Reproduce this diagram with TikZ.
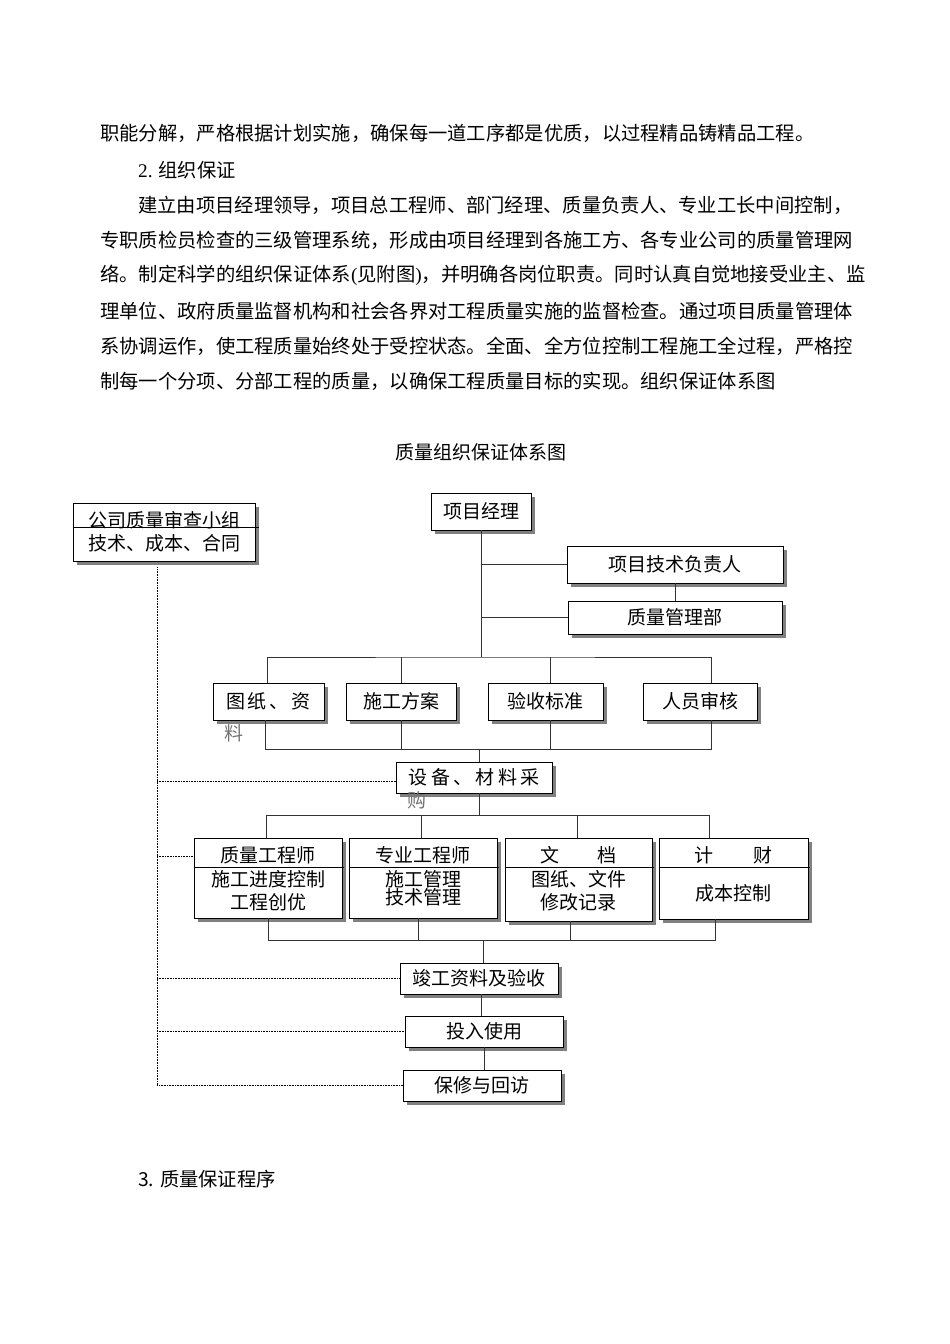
\documentclass[tikz,border=0pt]{standalone}
\usepackage{fontspec}
\setmainfont{Liberation Serif}
\newfontfamily\cjk{Noto Sans CJK SC}
\usetikzlibrary{shadows, calc}

\begin{document}
\begin{tikzpicture}[x=1pt, y=-1pt,
    box/.style={draw, line width=0.9pt, fill=white, inner sep=0pt,
        drop shadow={shadow xshift=4pt, shadow yshift=-4pt, fill=black!50, opacity=1},
        font=\cjk\fontsize{19}{23}\selectfont},
    lbl/.style={inner sep=0pt, font=\cjk\fontsize{19}{23}\selectfont},
    para/.style={anchor=west, inner sep=0pt, font=\cjk\fontsize{19.3}{23}\selectfont},
    link/.style={line width=0.9pt, black!80},
    dots/.style={line width=0.7pt, dash pattern=on 0.8pt off 0.8pt}]

    \fill[white] (0,0) rectangle (950,1344);
    \useasboundingbox (0,0) rectangle (950,1344);

    % text of the page
    \node[para] (l1) at (100,133) {职能分解，严格根据计划实施，确保每一道工序都是优质，以过程精品铸精品工程。};
    \node[para] (l2) at (138,170) {{\rmfamily 2.} 组织保证};
    \node[para] (l3) at (138,205) {建立由项目经理领导，项目总工程师、部门经理、质量负责人、专业工长中间控制，};
    \node[para] (l4) at (100,240) {专职质检员检查的三级管理系统，形成由项目经理到各施工方、各专业公司的质量管理网};
    \node[para] (l5) at (100,275) {络。制定科学的组织保证体系{\rmfamily(}见附图{\rmfamily)}，并明确各岗位职责。同时认真自觉地接受业主、监};
    \node[para] (l6) at (100,311) {理单位、政府质量监督机构和社会各界对工程质量实施的监督检查。通过项目质量管理体};
    \node[para] (l7) at (100,346) {系协调运作，使工程质量始终处于受控状态。全面、全方位控制工程施工全过程，严格控};
    \node[para] (l8) at (100,381) {制每一个分项、分部工程的质量，以确保工程质量目标的实现。组织保证体系图};
    \node[lbl] (title) at (481,452) {质量组织保证体系图};
    \node[para] (l9) at (138,1179) {3. 质量保证程序};

    % top of the chart
    \node[box, minimum width=182pt, minimum height=58pt, align=center] (qa) at (164,532) {公司质量审查小组\\技术、成本、合同};
    \draw[line width=0.9pt] ([yshift=5pt]qa.west) -- ([xshift=4pt, yshift=5pt]qa.east);

    \node[box, minimum width=100pt, minimum height=37pt] (pm) at (481,511.5) {项目经理};
    \node[box, minimum width=216pt, minimum height=37pt] (tech) at (675,564.5) {项目技术负责人};
    \node[box, minimum width=214pt, minimum height=33pt] (qdep) at (675,617.5) {质量管理部};

    \coordinate (top3) at (481,657);
    \draw[link] (pm) -- (top3);
    \draw[link] (pm.south |- tech.west) -- (tech.west);
    \draw[link] (pm.south |- qdep.west) -- (qdep.west);
    \draw[link] (tech) -- (qdep);

    % second row
    \node[box, minimum width=111pt, minimum height=37pt] (dwg) at (268.5,701.5) {图\hspace{3pt}纸\hspace{3pt}、\hspace{3pt}资};
    \node[lbl, text=black!55] (dwgx) at ([xshift=-35pt, yshift=-31.5pt]dwg.center) {料};
    \node[box, minimum width=110pt, minimum height=37pt] (plan) at (401,701.5) {施工方案};
    \node[box, minimum width=115pt, minimum height=37pt] (accept) at (545.5,701.5) {验收标准};
    \node[box, minimum width=114pt, minimum height=37pt] (staff) at (700,701.5) {人员审核};

    \draw[link] ([xshift=-1.5pt]dwg.north) |- (top3) -| ([xshift=11pt]staff.north);
    \draw[link] (plan.north) -- (plan.north |- top3);
    \draw[link] ([xshift=4.5pt]accept.north) -- ([xshift=4.5pt]accept.north |- top3);

    \coordinate (bot3) at (479,749);
    \draw[link] ([xshift=-3.5pt]dwg.south) |- (bot3) -| ([xshift=11pt]staff.south);
    \draw[link] (plan.south) -- (plan.south |- bot3);
    \draw[link] ([xshift=4.5pt]accept.south) -- ([xshift=4.5pt]accept.south |- bot3);

    \node[box, minimum width=156pt, minimum height=31pt] (buy) at (474,777.5) {};
    \node[lbl, anchor=west] (buyt) at ([xshift=13pt]buy.west) {设\hspace{3.4pt}备\hspace{3.4pt}、\hspace{3.4pt}材\hspace{3.4pt}料\hspace{3.4pt}采};
    \node[lbl, text=black!55] (buyx) at ([xshift=-57pt, yshift=-22.5pt]buy.center) {购};
    \draw[link] (bot3) -- (bot3 |- buy.north);

    % third row
    \node[box, minimum width=148pt, minimum height=80pt] (qeng) at (268,878) {};
    \node[box, minimum width=148pt, minimum height=80pt] (peng) at (423,878) {};
    \node[box, minimum width=147pt, minimum height=83pt] (doc) at (578.5,879.5) {};
    \node[box, minimum width=149pt, minimum height=81pt] (fin) at (733.5,878.5) {};

    \foreach \b in {qeng, peng, doc, fin}
        \draw[line width=0.9pt] ([yshift=-30pt]\b.north west) -- ([xshift=2pt, yshift=-30pt]\b.north east);

    \node[lbl] (qengh) at ([yshift=-18pt]qeng.north) {质量工程师};
    \node[lbl, align=center] (qengb) at ([yshift=-12.5pt]qeng.center) {施工进度控制\\工程创优};
    \node[lbl] (pengh) at ([yshift=-18pt]peng.north) {专业工程师};
    \node[lbl, align=center, font=\cjk\fontsize{19}{18}\selectfont] (pengb) at ([yshift=-10pt]peng.center) {施工管理\\技术管理};
    \node[lbl] (doch) at ([yshift=-18pt]doc.north) {文\hspace{38pt}档};
    \node[lbl, align=center] (docb) at ([yshift=-11.5pt]doc.center) {图纸、文件\\修改记录};
    \node[lbl] (finh) at ([yshift=-18pt]fin.north) {计\hspace{41pt}财};
    \node[lbl] (finb) at ([yshift=-14.5pt]fin.center) {成本控制};

    \coordinate (top4) at (479,815);
    \draw[link] (top4 |- buy.south) -- (top4);
    \draw[link] ([xshift=-2pt]qeng.north) |- (top4) -| ([xshift=-24.5pt]fin.north);
    \draw[link] ([xshift=-2pt]peng.north) -- ([xshift=-2pt]peng.north |- top4);
    \draw[link] ([xshift=-1.5pt]doc.north) -- ([xshift=-1.5pt]doc.north |- top4);

    \coordinate (bot4) at (483,940);
    \draw[link] (qeng.south) |- (bot4) -| ([xshift=-18.5pt]fin.south);
    \draw[link] ([xshift=-5pt]peng.south) -- ([xshift=-5pt]peng.south |- bot4);
    \draw[link] ([xshift=-8.5pt]doc.south) -- ([xshift=-8.5pt]doc.south |- bot4);

    % bottom of the chart
    \node[box, minimum width=158pt, minimum height=31pt] (done) at (479,978.5) {竣工资料及验收};
    \node[box, minimum width=158pt, minimum height=31pt] (use) at (484,1031.5) {投入使用};
    \node[box, minimum width=158pt, minimum height=31pt] (care) at (482,1085.5) {保修与回访};

    \draw[link] (bot4) -- (bot4 |- done.north);
    \draw[link] ([xshift=2pt]done.south) -- ([xshift=2pt]done.south |- use.north);
    \draw[link] (use.south) -- (use.south |- care.north);

    % dotted line of the review group
    \coordinate (dtop) at ([xshift=-7pt, yshift=-6pt]qa.south);
    \draw[dots] (dtop) |- (care.west);
    \draw[dots] (dtop |- buy.west) ++(0,4) -- ([yshift=-4pt]buy.west);
    \draw[dots] (dtop |- qeng.west) ++(0,-22) -- ([yshift=22pt]qeng.west);
    \draw[dots] (dtop |- done.west) -- (done.west);
    \draw[dots] (dtop |- use.west) -- (use.west);
\end{tikzpicture}
\end{document}
